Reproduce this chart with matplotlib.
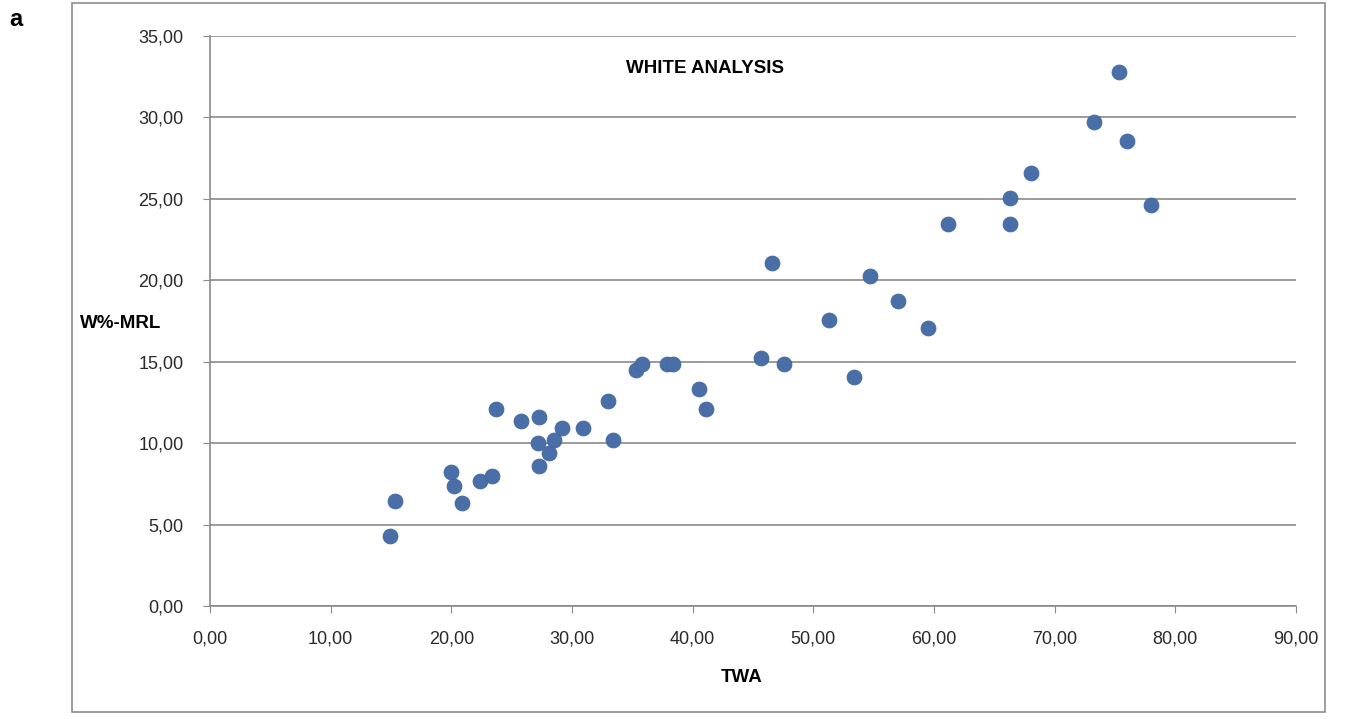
import matplotlib
matplotlib.use("Agg")
import matplotlib.pyplot as plt
from matplotlib.patches import Rectangle
from matplotlib.ticker import FuncFormatter, MultipleLocator

twa = [14.9, 15.3, 20.0, 20.2, 20.9, 22.4, 23.4, 23.7, 25.8, 27.3, 27.2, 27.3, 28.1,
       28.5, 29.2, 30.9, 33.0, 33.4, 35.3, 35.8, 37.9, 38.4, 40.5, 41.1, 46.6, 45.7,
       47.6, 51.3, 53.4, 54.7, 57.0, 59.5, 61.2, 66.3, 66.3, 68.0, 73.3, 75.3, 76.0, 78.0]
wmrl = [4.3, 6.45, 8.2, 7.35, 6.3, 7.7, 8.0, 12.1, 11.35, 11.6, 10.0, 8.6, 9.4,
        10.2, 10.9, 10.9, 12.6, 10.2, 14.5, 14.85, 14.85, 14.85, 13.3, 12.1, 21.05, 15.2,
        14.85, 17.55, 14.05, 20.25, 18.7, 17.1, 23.45, 25.05, 23.45, 26.6, 29.7, 32.8, 28.55, 24.6]

plt.rcParams['font.family'] = ['Liberation Sans', 'DejaVu Sans']

W, H = 1351, 719
fig = plt.figure(figsize=(W / 100, H / 100), dpi=100)
fig.patches.append(Rectangle((72 / W, 1 - 712 / H), (1325 - 72) / W, (712 - 3) / H,
                             transform=fig.transFigure, fill=False,
                             edgecolor='#8c8c8c', linewidth=1.2))
ax = fig.add_axes([210 / W, 1 - 606 / H, (1296 - 210) / W, (606 - 36) / H])

ax.scatter(twa, wmrl, s=115, color='#4a6fa8', edgecolors='#42659c', linewidths=0.6, zorder=3)

ax.set_xlim(0, 90)
ax.set_ylim(0, 35)
ax.xaxis.set_major_locator(MultipleLocator(10))
ax.yaxis.set_major_locator(MultipleLocator(5))
fmt = FuncFormatter(lambda v, p: f"{v:.2f}".replace('.', ','))
ax.xaxis.set_major_formatter(fmt)
ax.yaxis.set_major_formatter(fmt)
ax.grid(axis='y', color='#8a8a8a', linewidth=1.2, zorder=0)
ax.set_axisbelow(True)
for s in ['top', 'right']:
    ax.spines[s].set_visible(False)
for s in ['left', 'bottom']:
    ax.spines[s].set_color('#8a8a8a')
    ax.spines[s].set_linewidth(1.2)
ax.tick_params(axis='both', direction='out', length=5, color='#8a8a8a', labelsize=13,
               labelcolor='#2a2a2a')
ax.tick_params(axis='x', pad=13)
ax.tick_params(axis='y', pad=14)

ax.text(41, 33, "WHITE ANALYSIS", ha='center', va='center', fontsize=13.5, fontweight='bold')
fig.text(742 / W, 1 - 677 / H, "TWA", ha='center', va='center', fontsize=13.5, fontweight='bold')
fig.text(121 / W, 1 - 324 / H, "W%-MRL", ha='center', va='center', fontsize=13.5, fontweight='bold')
fig.text(16 / W, 1 - 20 / H, "a", ha='center', va='center', fontsize=17, fontweight='bold')

fig.savefig("out.png", dpi=100)
